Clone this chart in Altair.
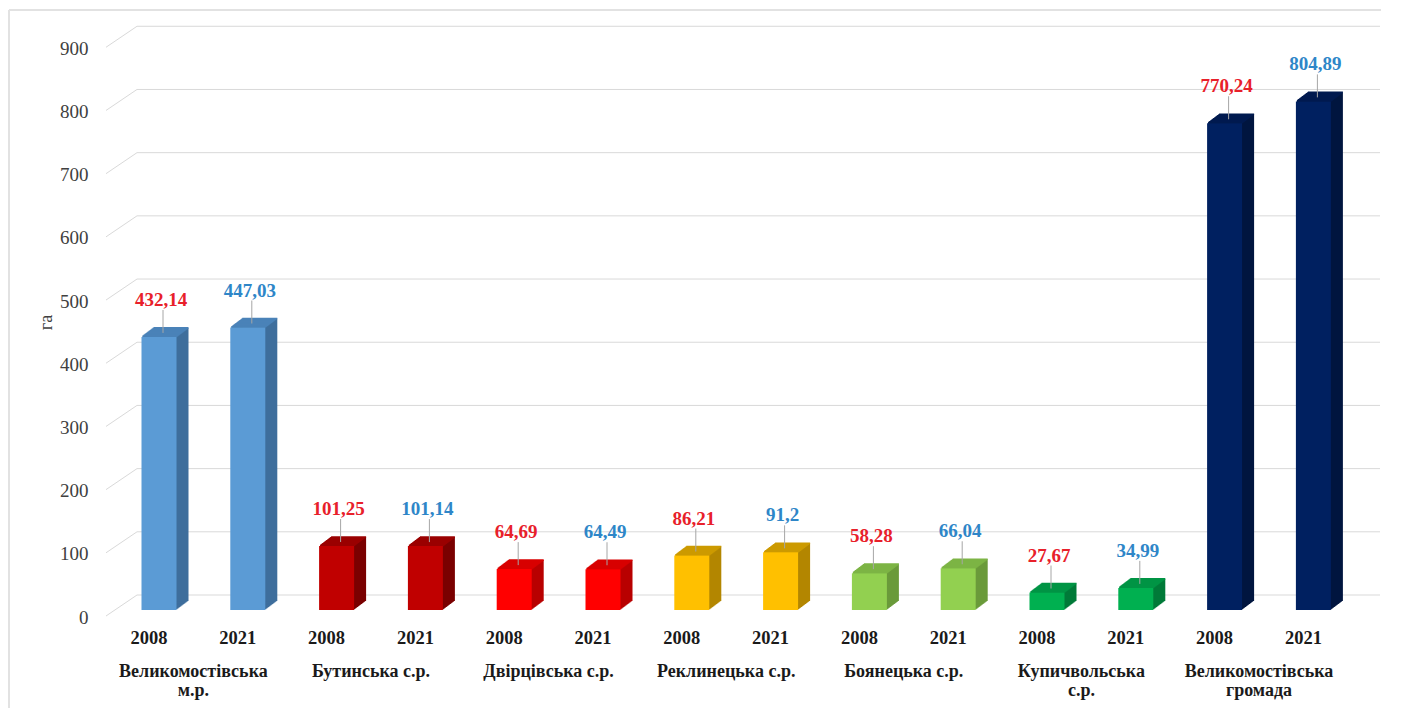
import altair as alt
import pandas as pd

categories = ["Великомостівська м.р.", "Бутинська с.р.", "Двірцівська с.р.",
              "Реклинецька с.р.", "Боянецька с.р.", "Купичвольська с.р.",
              "Великомостівська громада"]
category_lines = ["Великомостівська\nм.р.", "Бутинська с.р.", "Двірцівська с.р.",
                  "Реклинецька с.р.", "Боянецька с.р.", "Купичвольська\nс.р.",
                  "Великомостівська\nгромада"]
years = ["2008", "2021"]
values_2008 = [432.14, 101.25, 64.69, 86.21, 58.28, 27.67, 770.24]
values_2021 = [447.03, 101.14, 64.49, 91.2, 66.04, 34.99, 804.89]
y_ticks = [0, 100, 200, 300, 400, 500, 600, 700, 800, 900]

front_colors = ["#5B9BD5", "#C00000", "#FF0000", "#FFC000", "#92D050", "#00B050", "#002060"]
side_colors = ["#3E6E9C", "#7A0000", "#B80000", "#B38600", "#6A9A3A", "#007A38", "#00153F"]
top_colors = ["#4A82B8", "#9A0000", "#D80000", "#CC9A00", "#7DB445", "#009444", "#001A4F"]
red_label = "#E8202A"
blue_label = "#2E86C8"
SERIF = "Liberation Serif"

rows = []
for i, cat in enumerate(categories):
    for year, vals in zip(years, [values_2008, values_2021]):
        v = vals[i]
        rows.append({
            "slot": f"{i}|{year}",
            "cat": cat,
            "year": year,
            "value": v,
            "label": str(v).replace(".", ","),
            "cat_text": category_lines[i],
        })
df = pd.DataFrame(rows)
slots = list(df["slot"])
grid_df = pd.DataFrame({"value": y_ticks})

W, H = 1275, 594
BAR_W = 35
DEPTH = 12

x_enc = alt.X("slot:N",
              scale=alt.Scale(domain=slots, range=[9.6, 1252.8], paddingInner=0, paddingOuter=0),
              axis=alt.Axis(title=None, labelExpr="split(datum.value, '|')[1]", ticks=False,
                            domain=False, grid=False, labelAngle=0, labelFont=SERIF,
                            labelFontSize=18.5, labelFontWeight="bold", labelColor="#1a1a1a",
                            labelPadding=18, labelOffset=-10))
y_enc = alt.Y("value:Q", scale=alt.Scale(domain=[0, 940], nice=False),
              axis=alt.Axis(values=y_ticks, title="га", grid=False, domain=False, ticks=False,
                            labelPadding=17, labelOffset=7, labelFont=SERIF, labelFontSize=19,
                            labelColor="#404040", titleFont=SERIF, titleFontSize=18,
                            titleFontWeight="normal", titleColor="#404040", titlePadding=4,
                            titleY=306))

base = alt.Chart(df)

# back-wall gridlines and perspective ticks
grid = alt.Chart(grid_df).mark_rule(color="#d9d9d9", strokeWidth=1, yOffset=-15).encode(
    x=alt.value(32), x2=alt.value(W), y=y_enc)
diag = alt.Chart(grid_df).mark_rule(color="#d9d9d9", strokeWidth=1, yOffset=6, y2Offset=-15).encode(
    x=alt.value(1), x2=alt.value(32), y=y_enc, y2=alt.Y2("value:Q"))

layers = [grid, diag]

fill_scale = alt.Scale(domain=categories, range=side_colors)
for k in range(1, DEPTH + 1):
    dy = -0.75 * k
    layers.append(base.mark_bar(width=BAR_W, xOffset=k, x2Offset=k, yOffset=dy, y2Offset=dy).encode(
        x=x_enc, y=y_enc, fill=alt.Fill("cat:N", scale=fill_scale, legend=None)))

stroke_scale = alt.Scale(domain=categories, range=top_colors)
for k in range(1, DEPTH + 1):
    dy = -0.75 * k
    layers.append(base.mark_rule(strokeWidth=1.6, xOffset=-BAR_W / 2 + k, x2Offset=BAR_W / 2 + k,
                                 yOffset=dy).encode(
        x=x_enc, x2=alt.X2("slot:N"), y=y_enc,
        stroke=alt.Stroke("cat:N", scale=stroke_scale, legend=None)))

front = base.mark_bar(width=BAR_W).encode(
    x=x_enc, y=y_enc,
    color=alt.Color("cat:N", scale=alt.Scale(domain=categories, range=front_colors), legend=None))
layers.append(front)

leader = base.mark_rule(color="#a6a6a6", strokeWidth=1, yOffset=-27, y2Offset=-4, xOffset=4).encode(
    x=x_enc, y=y_enc, y2=alt.Y2("value:Q"))
layers.append(leader)

value_text = base.mark_text(font=SERIF, fontSize=19, fontWeight="bold", baseline="middle",
                            yOffset=-37, xOffset=2).encode(
    x=x_enc, y=y_enc, text="label:N",
    color=alt.condition(alt.datum.year == "2008", alt.value(red_label), alt.value(blue_label)))
layers.append(value_text)

cat_text = base.transform_filter(alt.datum.year == "2008").mark_text(
    font=SERIF, fontSize=18, fontWeight="bold", color="#1a1a1a", lineBreak="\n", lineHeight=19,
    baseline="alphabetic", align="center", xOffset=34.4).encode(
    x=x_enc, y=alt.value(661), text="cat_text:N")
layers.append(cat_text)

frame_df = pd.DataFrame({"value": [0]})
frame_top = alt.Chart(frame_df).mark_rule(color="#e2e2e2", strokeWidth=2).encode(
    x=alt.value(-96), x2=alt.value(1276), y=alt.value(-6))
frame_left = alt.Chart(frame_df).mark_rule(color="#e2e2e2", strokeWidth=2).encode(
    x=alt.value(-96), y=alt.value(-6), y2=alt.value(692))
layers += [frame_top, frame_left]

chart = alt.layer(*layers).resolve_scale(color="independent").properties(
    width=W, height=H,
    autosize=alt.AutoSizeParams(type="none"),
    padding={"left": 97, "top": 8, "right": 10, "bottom": 98},
    background="white",
).configure_view(stroke=None)

chart.save("out.html", embed_options={"renderer": "svg", "actions": False})
